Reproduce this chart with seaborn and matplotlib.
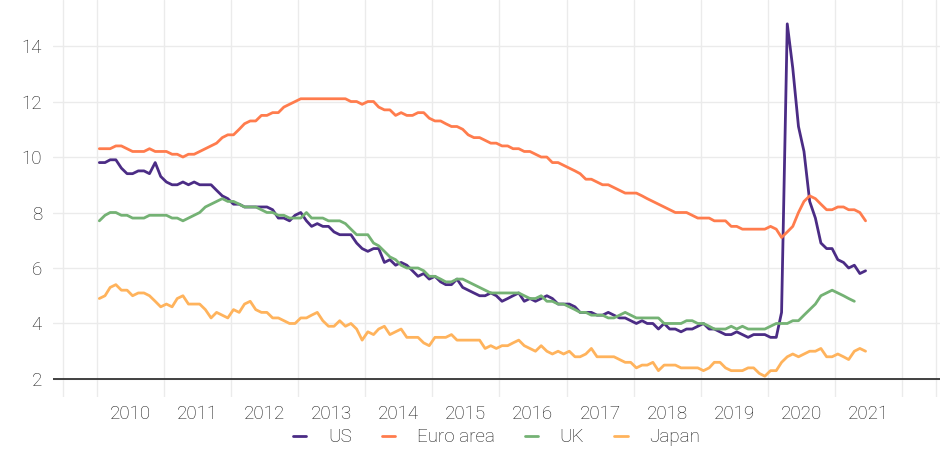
import datetime as dt
import pandas as pd
import numpy as np
import matplotlib
matplotlib.use("Agg")
import matplotlib.pyplot as plt
import matplotlib.dates as mdates
import seaborn as sns

# -----------------------------
# Data (monthly unemployment rate, %), Jan 2010 onwards
# -----------------------------
us = [
    9.8, 9.8, 9.9, 9.9, 9.6, 9.4, 9.4, 9.5, 9.5, 9.4, 9.8, 9.3,
    9.1, 9.0, 9.0, 9.1, 9.0, 9.1, 9.0, 9.0, 9.0, 8.8, 8.6, 8.5,
    8.3, 8.3, 8.2, 8.2, 8.2, 8.2, 8.2, 8.1, 7.8, 7.8, 7.7, 7.9,
    8.0, 7.7, 7.5, 7.6, 7.5, 7.5, 7.3, 7.2, 7.2, 7.2, 6.9, 6.7,
    6.6, 6.7, 6.7, 6.2, 6.3, 6.1, 6.2, 6.1, 5.9, 5.7, 5.8, 5.6,
    5.7, 5.5, 5.4, 5.4, 5.6, 5.3, 5.2, 5.1, 5.0, 5.0, 5.1, 5.0,
    4.8, 4.9, 5.0, 5.1, 4.8, 4.9, 4.8, 4.9, 5.0, 4.9, 4.7, 4.7,
    4.7, 4.6, 4.4, 4.4, 4.4, 4.3, 4.3, 4.4, 4.3, 4.2, 4.2, 4.1,
    4.0, 4.1, 4.0, 4.0, 3.8, 4.0, 3.8, 3.8, 3.7, 3.8, 3.8, 3.9,
    4.0, 3.8, 3.8, 3.7, 3.6, 3.6, 3.7, 3.6, 3.5, 3.6, 3.6, 3.6,
    3.5, 3.5, 4.4, 14.8, 13.2, 11.1, 10.2, 8.4, 7.8, 6.9, 6.7, 6.7,
    6.3, 6.2, 6.0, 6.1, 5.8, 5.9,
]

euro = [
    10.3, 10.3, 10.3, 10.4, 10.4, 10.3, 10.2, 10.2, 10.2, 10.3, 10.2, 10.2,
    10.2, 10.1, 10.1, 10.0, 10.1, 10.1, 10.2, 10.3, 10.4, 10.5, 10.7, 10.8,
    10.8, 11.0, 11.2, 11.3, 11.3, 11.5, 11.5, 11.6, 11.6, 11.8, 11.9, 12.0,
    12.1, 12.1, 12.1, 12.1, 12.1, 12.1, 12.1, 12.1, 12.1, 12.0, 12.0, 11.9,
    12.0, 12.0, 11.8, 11.7, 11.7, 11.5, 11.6, 11.5, 11.5, 11.6, 11.6, 11.4,
    11.3, 11.3, 11.2, 11.1, 11.1, 11.0, 10.8, 10.7, 10.7, 10.6, 10.5, 10.5,
    10.4, 10.4, 10.3, 10.3, 10.2, 10.2, 10.1, 10.0, 10.0, 9.8, 9.8, 9.7,
    9.6, 9.5, 9.4, 9.2, 9.2, 9.1, 9.0, 9.0, 8.9, 8.8, 8.7, 8.7,
    8.7, 8.6, 8.5, 8.4, 8.3, 8.2, 8.1, 8.0, 8.0, 8.0, 7.9, 7.8,
    7.8, 7.8, 7.7, 7.7, 7.7, 7.5, 7.5, 7.4, 7.4, 7.4, 7.4, 7.4,
    7.5, 7.4, 7.1, 7.3, 7.5, 8.0, 8.4, 8.6, 8.5, 8.3, 8.1, 8.1,
    8.2, 8.2, 8.1, 8.1, 8.0, 7.7,
]

uk = [
    7.7, 7.9, 8.0, 8.0, 7.9, 7.9, 7.8, 7.8, 7.8, 7.9, 7.9, 7.9,
    7.9, 7.8, 7.8, 7.7, 7.8, 7.9, 8.0, 8.2, 8.3, 8.4, 8.5, 8.4,
    8.4, 8.3, 8.2, 8.2, 8.2, 8.1, 8.0, 8.0, 7.9, 7.9, 7.8, 7.8,
    7.8, 8.0, 7.8, 7.8, 7.8, 7.7, 7.7, 7.7, 7.6, 7.4, 7.2, 7.2,
    7.2, 6.9, 6.8, 6.6, 6.4, 6.3, 6.1, 6.0, 6.0, 6.0, 5.9, 5.7,
    5.7, 5.6, 5.5, 5.5, 5.6, 5.6, 5.5, 5.4, 5.3, 5.2, 5.1, 5.1,
    5.1, 5.1, 5.1, 5.1, 5.0, 4.9, 4.9, 5.0, 4.8, 4.8, 4.7, 4.7,
    4.6, 4.5, 4.4, 4.4, 4.3, 4.3, 4.3, 4.2, 4.2, 4.3, 4.4, 4.3,
    4.2, 4.2, 4.2, 4.2, 4.2, 4.0, 4.0, 4.0, 4.0, 4.1, 4.1, 4.0,
    4.0, 3.9, 3.8, 3.8, 3.8, 3.9, 3.8, 3.9, 3.8, 3.8, 3.8, 3.8,
    3.9, 4.0, 4.0, 4.0, 4.1, 4.1, 4.3, 4.5, 4.7, 5.0, 5.1, 5.2,
    5.1, 5.0, 4.9, 4.8,
]

japan = [
    4.9, 5.0, 5.3, 5.4, 5.2, 5.2, 5.0, 5.1, 5.1, 5.0, 4.8, 4.6,
    4.7, 4.6, 4.9, 5.0, 4.7, 4.7, 4.7, 4.5, 4.2, 4.4, 4.3, 4.2,
    4.5, 4.4, 4.7, 4.8, 4.5, 4.4, 4.4, 4.2, 4.2, 4.1, 4.0, 4.0,
    4.2, 4.2, 4.3, 4.4, 4.1, 3.9, 3.9, 4.1, 3.9, 4.0, 3.8, 3.4,
    3.7, 3.6, 3.8, 3.9, 3.6, 3.7, 3.8, 3.5, 3.5, 3.5, 3.3, 3.2,
    3.5, 3.5, 3.5, 3.6, 3.4, 3.4, 3.4, 3.4, 3.4, 3.1, 3.2, 3.1,
    3.2, 3.2, 3.3, 3.4, 3.2, 3.1, 3.0, 3.2, 3.0, 2.9, 3.0, 2.9,
    3.0, 2.8, 2.8, 2.9, 3.1, 2.8, 2.8, 2.8, 2.8, 2.7, 2.6, 2.6,
    2.4, 2.5, 2.5, 2.6, 2.3, 2.5, 2.5, 2.5, 2.4, 2.4, 2.4, 2.4,
    2.3, 2.4, 2.6, 2.6, 2.4, 2.3, 2.3, 2.3, 2.4, 2.4, 2.2, 2.1,
    2.3, 2.3, 2.6, 2.8, 2.9, 2.8, 2.9, 3.0, 3.0, 3.1, 2.8, 2.8,
    2.9, 2.8, 2.7, 3.0, 3.1, 3.0,
]

countries = ["US", "Euro area", "UK", "Japan"]
colors = ["#4b2c85", "#ff7c4d", "#74b274", "#ffb35c"]
series = [us, euro, uk, japan]

year_labels = list(range(2010, 2022))
y_ticks = [2, 4, 6, 8, 10, 12, 14]

# monthly points sit mid-month
months = pd.date_range("2010-01-01", periods=len(us), freq="MS") + pd.Timedelta(days=14)

frames = []
for name, vals in zip(countries, series):
    frames.append(pd.DataFrame({
        "date": months[:len(vals)],
        "rate": vals,
        "country": name,
    }))
df = pd.concat(frames, ignore_index=True)

# -----------------------------
# Style
# -----------------------------
sns.set_style("white")
plt.rcParams["font.family"] = ["Roboto", "DejaVu Sans"]
plt.rcParams["font.weight"] = "light"
text_col = "#1a1a1a"

fig = plt.figure(figsize=(9.42, 4.51), dpi=100)
ax = fig.add_axes([53 / 942, 1 - 397 / 451, (940 - 53) / 942, 397 / 451])

sns.lineplot(
    data=df, x="date", y="rate", hue="country",
    hue_order=countries, palette=colors,
    linewidth=2, ax=ax, legend=True,
)

# axis limits
x0 = dt.datetime(2010, 1, 1)
ax.set_xlim(mdates.date2num(x0 - dt.timedelta(days=238)),
            mdates.date2num(x0 + dt.timedelta(days=4588)))
ax.set_ylim(1.35, 15.66)

# ticks: labels mid-year, gridlines at year starts
ax.set_xticks([mdates.date2num(dt.datetime(y, 7, 1)) for y in year_labels])
ax.set_xticklabels([str(y) for y in year_labels])
minor = [dt.datetime(2009, 7, 1)] + [dt.datetime(y, 1, 1) for y in range(2010, 2023)] + [dt.datetime(2022, 7, 1)]
ax.set_xticks([mdates.date2num(d) for d in minor], minor=True)
ax.set_yticks(y_ticks)
ax.set_yticklabels([str(t) for t in y_ticks])

ax.grid(False)
ax.grid(axis="x", which="minor", color="#ebebeb", linewidth=1)
ax.grid(axis="y", which="major", color="#ebebeb", linewidth=1)
ax.set_axisbelow(True)
ax.axhline(2, color="#333333", linewidth=1.3, zorder=1.5)

ax.tick_params(axis="both", which="both", length=0, labelsize=13.5, colors=text_col)
ax.tick_params(axis="x", pad=5.5)
ax.tick_params(axis="y", pad=8)

for s in ax.spines.values():
    s.set_visible(False)

ax.set_xlabel("")
ax.set_ylabel("")

handles, labels = ax.get_legend_handles_labels()
ax.legend(
    handles, labels, loc="center", bbox_to_anchor=(0.5, -0.101),
    ncol=4, frameon=False, fontsize=13.5, handlelength=0.72,
    handletextpad=1.15, columnspacing=1.6, labelcolor=text_col,
)

plt.savefig("out.png", dpi=100)
plt.close()
